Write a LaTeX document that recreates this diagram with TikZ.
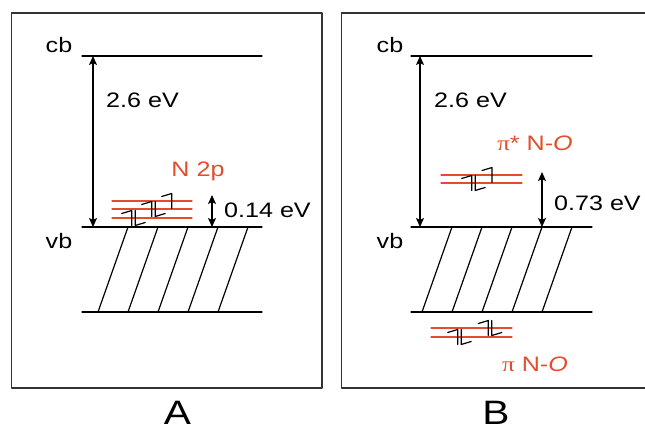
\documentclass[tikz,border=0pt]{standalone}
\usepackage{fontspec}
\setmainfont{Liberation Sans}[FakeStretch=1.2]
\newfontfamily\pifont{Liberation Serif}[FakeStretch=1.2]
\usetikzlibrary{arrows.meta}
\definecolor{orbred}{RGB}{226,78,44}

\begin{document}
\begin{tikzpicture}[x=1bp,y=-1bp,>={Stealth[length=9bp,width=8bp,inset=2bp]},line join=round,line cap=round
				,level/.style={line width=1.2bp}
				,orb/.style={orbred,line width=1.2bp}
				,elec/.style={line width=1.2bp}
				,txt/.style={inner sep=0pt,font=\fontsize{21}{24}\selectfont}
				,redtxt/.style={inner sep=0pt,text=orbred,font=\fontsize{21}{24}\selectfont}
				,epair/.pic={\draw[elec] (-10,-4.5)--(0,-7.5)--(0,7.5); \draw[elec] (3.5,-7.5)--(3.5,7.5)--(13.5,4.5);}
				,eup/.pic={\draw[elec] (-10,-4.5)--(0,-7.5)--(0,7.5);}
				]
				\useasboundingbox (0,0) rectangle (645,431);
				%	\draw[thin,gray!50,step=10] (0,0) grid (645,431);
				
				% panel A
				\draw[black!80,line width=1.2bp] (11.5,13) rectangle (322,388);
				\coordinate (cbA) at (93,56);
				\coordinate (vbA) at (93,227);
				\coordinate (npA) at (212,195);
				\coordinate (npB) at (212,227);
				\draw[level] (82,56)--(262,56);
				\draw[level] (82,227)--(262,227);
				\draw[level] (82,312)--(262,312);
				\foreach \x in {98,128,...,218}
				\draw[level] (\x,312)--(\x+30,227);
				\foreach \y in {201,209,218}
				\draw[orb] (112,\y)--(192,\y);
				\pic at (131.7,218) {epair};
				\pic at (151.7,209) {epair};
				\pic at (171.7,201) {eup};
				\draw[level,<->] (cbA)--(vbA);
				\draw[level,<->] (npA)--(npB);
				\node[txt,anchor=base] (cbAlab) at (59,52.5) {cb};
				\node[txt,anchor=base] (vbAlab) at (59,248) {vb};
				\node[txt,anchor=base west] (gapAlab) at (106,107) {2.6 eV};
				\node[txt,anchor=base west] (npAlab) at (224,217) {0.14 eV};
				\node[redtxt,anchor=base] (n2p) at (198,176) {N 2p};
				\node[inner sep=0pt,font=\fontsize{34}{36}\selectfont,anchor=base] (Alab) at (177.5,424) {A};
				
				% panel B
				\draw[black!80,line width=1.2bp] (341.5,13) rectangle (648,388);
				\coordinate (cbB) at (420,56);
				\coordinate (vbB) at (420,227);
				\coordinate (pisB) at (542,172);
				\coordinate (pisvb) at (542,227);
				\draw[level] (411,56)--(592,56);
				\draw[level] (411,227)--(592,227);
				\draw[level] (411,312)--(592,312);
				\foreach \x in {422,452,...,542}
				\draw[level] (\x,312)--(\x+30,227);
				\foreach \y in {175,183}
				\draw[orb] (441,\y)--(522,\y);
				\foreach \y in {328,337}
				\draw[orb] (431,\y)--(512,\y);
				\pic at (471.7,183) {epair};
				\pic at (492,175) {eup};
				\pic at (457.7,337) {epair};
				\pic at (488.3,328) {epair};
				\draw[level,<->] (cbB)--(vbB);
				\draw[level,<->] (pisB)--(pisvb);
				\node[txt,anchor=base] (cbBlab) at (390,52.5) {cb};
				\node[txt,anchor=base] (vbBlab) at (390,248) {vb};
				\node[txt,anchor=base west] (gapBlab) at (434,107) {2.6 eV};
				\node[txt,anchor=base west] (pisBlab) at (554,210) {0.73 eV};
				\node[redtxt,anchor=base] (pistar) at (535,150) {{\pifont π}* N-{\itshape O}};
				\node[redtxt,anchor=base] (pibond) at (535,371) {{\pifont π} N-{\itshape O}};
				\node[inner sep=0pt,font=\fontsize{34}{36}\selectfont,anchor=base] (Blab) at (496,424) {B};
\end{tikzpicture}
\end{document}
